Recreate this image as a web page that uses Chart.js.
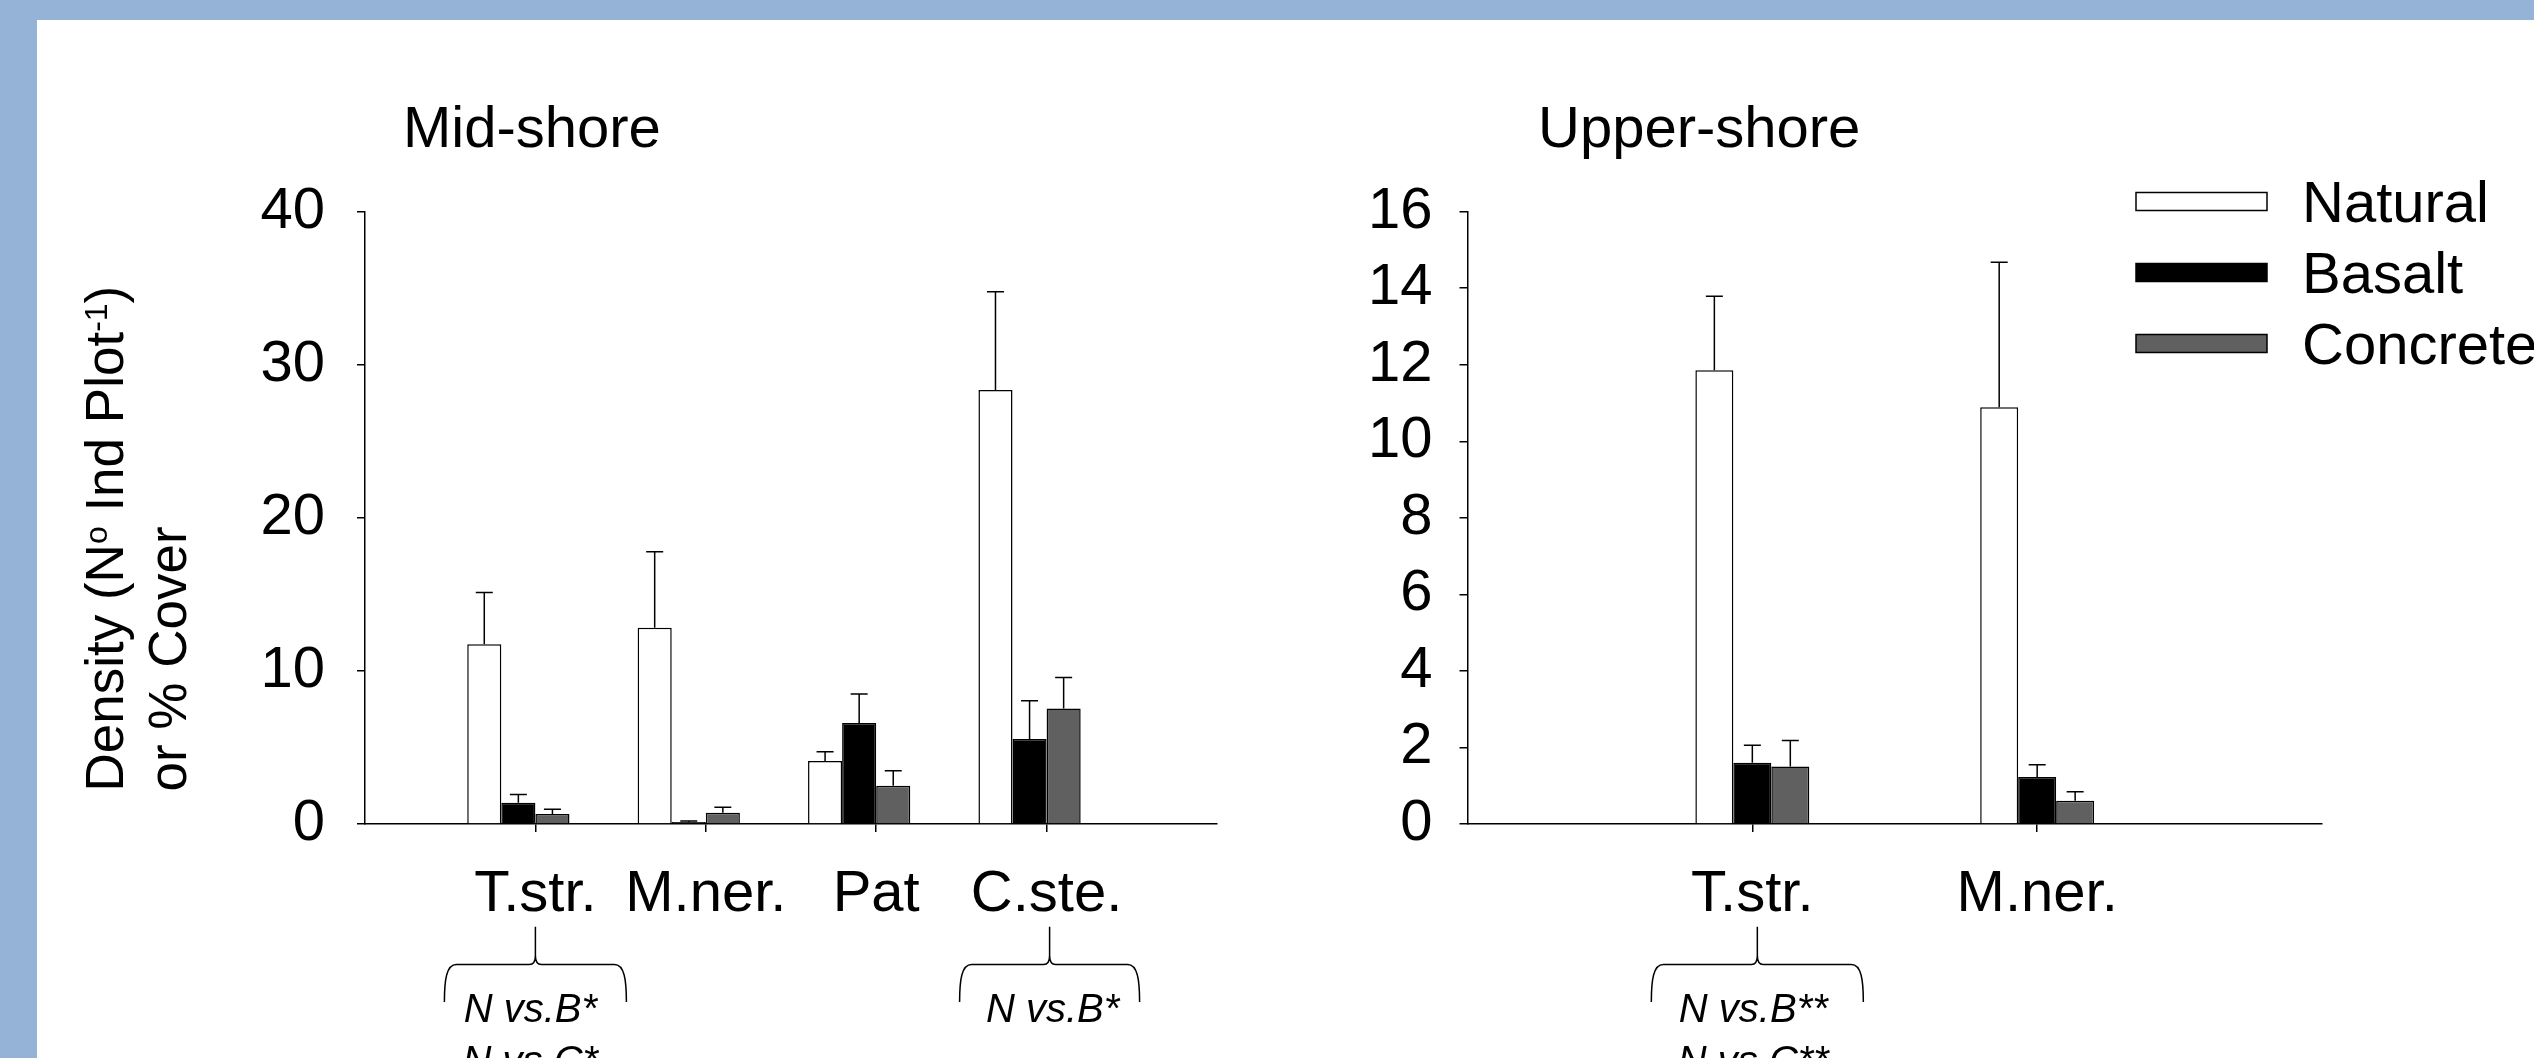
<!DOCTYPE html>
<html><head><meta charset="utf-8">
<script src="https://cdn.jsdelivr.net/npm/chart.js@4.4.1/dist/chart.umd.min.js"></script>
<style>
html,body{margin:0;padding:0;}
body{width:2534px;height:1058px;position:relative;overflow:hidden;background:#fff;}
#bandTop{position:absolute;left:0;top:0;width:2534px;height:20px;background:#95B3D7;}
#bandLeft{position:absolute;left:0;top:0;width:37px;height:1058px;background:#95B3D7;}
#c1{position:absolute;left:0;top:0;}
#c2{position:absolute;left:1250px;top:0;}
</style></head>
<body>
<div id="bandTop"></div><div id="bandLeft"></div>
<canvas id="c1" width="1250" height="1058"></canvas>
<canvas id="c2" width="1284" height="1058"></canvas>
<script>
// ---------------- data ----------------
const seriesNames = ['Natural', 'Basalt', 'Concrete'];

const midTitle = 'Mid-shore';
const midCategories = ['T.str.', 'M.ner.', 'Pat', 'C.ste.'];
const midNatural    = [11.74, 12.82, 4.11, 28.36];
const midNaturalSE  = [3.39, 4.97, 0.61, 6.41];
const midBasalt     = [1.39, 0.13, 6.60, 5.56];
const midBasaltSE   = [0.53, 0.07, 1.89, 2.49];
const midConcrete   = [0.65, 0.74, 2.50, 7.54];
const midConcreteSE = [0.31, 0.35, 0.98, 2.03];
const midTicks = [0, 10, 20, 30, 40];
const midTests = [
  { category: 'T.str.', lines: ['N vs.B*', 'N vs.C*'] },
  { category: 'C.ste.', lines: ['N vs.B*'] }
];

const upTitle = 'Upper-shore';
const upCategories = ['T.str.', 'M.ner.'];
const upNatural    = [11.86, 10.89];
const upNaturalSE  = [1.93, 3.79];
const upBasalt     = [1.60, 1.23];
const upBasaltSE   = [0.46, 0.32];
const upConcrete   = [1.50, 0.61];
const upConcreteSE = [0.68, 0.23];
const upTicks = [0, 2, 4, 6, 8, 10, 12, 14, 16];
const upTests = [
  { category: 'T.str.', lines: ['N vs.B**', 'N vs.C**'] }
];

const yTitleLine1 = ['Density (N', {sup: 'o'}, ' Ind Plot', {sup: '-1'}, ')'];
const yTitleLine2 = 'or % Cover';

// ---------------- styling ----------------
const FAMILY = "'Liberation Sans', Arial, Helvetica, sans-serif";
const seriesColors = ['#ffffff', '#000000', '#606060'];

function pad(arr) { return [null, ...arr, null]; }
function padLabels(arr) { return ['', ...arr, '']; }

function makeDatasets(vals, ses, catPct, spacer) {
  const out = vals.map((v, i) => ({
    label: seriesNames[i],
    data: pad(v),
    se: pad(ses[i]),
    backgroundColor: seriesColors[i],
    borderColor: '#000',
    borderWidth: 1.5,
    categoryPercentage: catPct,
    barPercentage: 1.0
  }));
  if (spacer) {
    // empty fourth column (the original plot leaves a blank slot after Concrete)
    out.push({
      label: '',
      data: pad(vals[0].map(() => null)),
      se: pad(vals[0].map(() => null)),
      backgroundColor: 'rgba(0,0,0,0)',
      borderWidth: 0,
      categoryPercentage: catPct,
      barPercentage: 1.0
    });
  }
  return out;
}

// error bars
const errorBars = {
  id: 'errorBars',
  afterDatasetsDraw(chart) {
    const ctx = chart.ctx, ys = chart.scales.y;
    ctx.save();
    ctx.strokeStyle = '#000';
    ctx.lineWidth = 1.5;
    chart.data.datasets.forEach((ds, i) => {
      const meta = chart.getDatasetMeta(i);
      meta.data.forEach((el, j) => {
        const v = ds.data[j], e = ds.se[j];
        if (v == null || e == null) return;
        const yTop = ys.getPixelForValue(v + e);
        ctx.beginPath();
        ctx.moveTo(el.x, el.y);
        ctx.lineTo(el.x, yTop);
        ctx.moveTo(el.x - 8.5, yTop);
        ctx.lineTo(el.x + 8.5, yTop);
        ctx.stroke();
      });
    });
    ctx.restore();
  }
};

function drawBrace(ctx, xc, x0, x1, yTip, yH, yEnd) {
  ctx.beginPath();
  ctx.moveTo(x0, yEnd);
  ctx.bezierCurveTo(x0, yEnd - 22, x0 + 2, yH, x0 + 12, yH);
  ctx.lineTo(xc - 6, yH);
  ctx.quadraticCurveTo(xc, yH, xc, yH - 9);
  ctx.lineTo(xc, yTip);
  ctx.moveTo(xc, yH - 9);
  ctx.quadraticCurveTo(xc, yH, xc + 6, yH);
  ctx.lineTo(x1 - 12, yH);
  ctx.bezierCurveTo(x1 - 2, yH, x1, yEnd - 22, x1, yEnd);
  ctx.stroke();
}

function drawRich(ctx, parts, size) {
  let x = 0;
  parts.forEach(p => {
    if (typeof p === 'string') {
      ctx.font = size + 'px ' + FAMILY;
      ctx.fillText(p, x, 0);
      x += ctx.measureText(p).width;
    } else {
      const s = Math.round(size * 0.6);
      ctx.font = s + 'px ' + FAMILY;
      ctx.fillText(p.sup, x, -size * 0.3);
      x += ctx.measureText(p.sup).width;
    }
  });
}

const deco = {
  id: 'deco',
  afterDraw(chart, args, o) {
    const ctx = chart.ctx;
    ctx.save();
    ctx.fillStyle = '#000';
    ctx.strokeStyle = '#000';
    // title
    ctx.font = '58px ' + FAMILY;
    ctx.textAlign = 'left';
    ctx.textBaseline = 'alphabetic';
    ctx.fillText(o.title, o.titleX, o.titleY);
    // y title
    if (o.yTitle) {
      ctx.save();
      ctx.translate(123, 791.5);
      ctx.rotate(-Math.PI / 2);
      drawRich(ctx, yTitleLine1, 53);
      ctx.restore();
      ctx.save();
      ctx.translate(186, 791.5);
      ctx.rotate(-Math.PI / 2);
      ctx.font = '53px ' + FAMILY;
      ctx.fillText(yTitleLine2, 0, 0);
      ctx.restore();
    }
    // significance braces
    const xs = chart.scales.x;
    const labels = chart.data.labels;
    ctx.lineWidth = 1.5;
    o.tests.forEach((t, k) => {
      const g = o.testGeom[k];
      const xcat = xs.getPixelForValue(labels.indexOf(t.category));
      const xc = xcat + g.dx;
      drawBrace(ctx, xc, xc - g.half, xc + g.half, 926.7, 964.5, 1002);
      ctx.font = 'italic 40px ' + FAMILY;
      ctx.textAlign = 'center';
      t.lines.forEach((ln, li) => {
        ctx.fillText(ln, xcat + g.tdx, 1021.7 + li * 52.3);
      });
    });
    // legend
    if (o.legend) {
      const L = o.legend;
      chart.data.datasets.filter(ds => ds.label).forEach((ds, i) => {
        const cy = L.y0 + i * L.gap;
        ctx.fillStyle = ds.backgroundColor;
        ctx.fillRect(L.x, cy - L.h / 2, L.w, L.h);
        ctx.strokeStyle = '#000';
        ctx.lineWidth = 1.5;
        ctx.strokeRect(L.x, cy - L.h / 2, L.w, L.h);
        ctx.fillStyle = '#000';
        ctx.font = '58px ' + FAMILY;
        ctx.textAlign = 'left';
        ctx.fillText(ds.label, L.textX, cy + 20.7);
      });
    }
    ctx.restore();
  }
};

function makeOptions(cfg) {
  return {
    responsive: false,
    animation: false,
    events: [],
    layout: { padding: { left: 0, top: 211.7, right: cfg.padRight, bottom: 0 } },
    plugins: {
      legend: { display: false },
      tooltip: { enabled: false },
      title: { display: false },
      deco: cfg.deco
    },
    scales: {
      x: {
        type: 'category',
        offset: false,
        grid: {
          display: true, drawOnChartArea: false, drawTicks: true, tickLength: 8, offset: false,
          lineWidth: 1.5,
          color: (c) => (c.tick && c.tick.label) ? '#000' : 'rgba(0,0,0,0)'
        },
        border: { display: true, color: '#000', width: 1.5 },
        ticks: {
          autoSkip: false, maxRotation: 0, minRotation: 0, padding: 28,
          color: '#000', font: { family: FAMILY, size: 58 }
        },
        afterFit: (s) => { s.height = 1058 - 824; }
      },
      y: {
        type: 'linear',
        min: cfg.ticks[0],
        max: cfg.ticks[cfg.ticks.length - 1],
        afterBuildTicks: (s) => { s.ticks = cfg.ticks.map(v => ({ value: v })); },
        grid: { display: true, drawOnChartArea: false, drawTicks: true, tickLength: 8, lineWidth: 1.5, color: '#000' },
        border: { display: true, color: '#000', width: 1.5 },
        ticks: { padding: cfg.tickPad, color: '#000', font: { family: FAMILY, size: 58 } },
        afterFit: (s) => { s.width = cfg.yWidth; }
      }
    }
  };
}

new Chart(document.getElementById('c1'), {
  type: 'bar',
  data: {
    labels: padLabels(midCategories),
    datasets: makeDatasets([midNatural, midBasalt, midConcrete], [midNaturalSE, midBasaltSE, midConcreteSE], 0.8, true)
  },
  options: makeOptions({
    padRight: 33, yWidth: 365, tickPad: 32, ticks: midTicks,
    deco: {
      title: midTitle, titleX: 403, titleY: 147, yTitle: true,
      tests: midTests,
      testGeom: [{ dx: 0, half: 91, tdx: -5 }, { dx: 3, half: 90, tdx: 6 }],
      legend: null
    }
  }),
  plugins: [errorBars, deco]
});

new Chart(document.getElementById('c2'), {
  type: 'bar',
  data: {
    labels: padLabels(upCategories),
    datasets: makeDatasets([upNatural, upBasalt, upConcrete], [upNaturalSE, upBasaltSE, upConcreteSE], 0.4, false)
  },
  options: makeOptions({
    padRight: 212, yWidth: 217.5, tickPad: 27, ticks: upTicks,
    deco: {
      title: upTitle, titleX: 288, titleY: 147, yTitle: false,
      tests: upTests,
      testGeom: [{ dx: 5, half: 106, tdx: 1 }],
      legend: { x: 886, y0: 201.5, gap: 71, w: 131, h: 18, textX: 1052 }
    }
  }),
  plugins: [errorBars, deco]
});
</script>
</body></html>
